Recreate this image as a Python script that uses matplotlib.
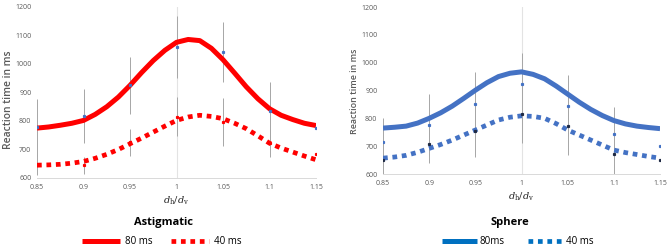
import matplotlib
matplotlib.use("Agg")
import matplotlib.pyplot as plt
from matplotlib.lines import Line2D

# measured points
ratio = [0.85, 0.9, 0.95, 1.0, 1.05, 1.1, 1.15]

astig_80 = [778, 818, 925, 1060, 1043, 835, 777]
astig_80_err = [100, 95, 100, 110, 106, 102, 98]
astig_40 = [645, 645, 725, 815, 797, 722, 685]
astig_40_err = [35, 30, 47, 68, 85, 50, 45]

sphere_80 = [714, 776, 850, 922, 845, 745, 700]
sphere_80_err = [86, 111, 117, 111, 110, 94, 80]
sphere_40 = [652, 708, 755, 815, 772, 672, 650]
sphere_40_err = [60, 70, 93, 103, 104, 75, 60]

# fitted curves, every 0.0125
curve_x = [0.85, 0.8625, 0.875, 0.8875, 0.9, 0.9125, 0.925, 0.9375, 0.95, 0.9625,
           0.975, 0.9875, 1.0, 1.0125, 1.025, 1.0375, 1.05, 1.0625, 1.075, 1.0875,
           1.1, 1.1125, 1.125, 1.1375, 1.15]
astig_80_fit = [775, 779, 785, 792, 802, 823, 850, 884, 925, 970, 1012, 1048, 1076,
                1086, 1082, 1055, 1015, 968, 920, 878, 843, 820, 805, 792, 784]
astig_40_fit = [645, 646, 648, 652, 658, 669, 683, 700, 720, 740, 761, 782, 802,
                814, 820, 816, 808, 792, 773, 748, 722, 705, 691, 677, 664]
sphere_80_fit = [765, 768, 772, 783, 800, 820, 844, 872, 901, 928, 950, 962, 967,
                 958, 942, 916, 887, 858, 832, 810, 792, 780, 772, 767, 763]
sphere_40_fit = [657, 661, 667, 678, 692, 706, 722, 740, 758, 776, 794, 804, 809,
                 807, 800, 781, 758, 740, 722, 704, 686, 677, 670, 663, 657]

xticks = [0.85, 0.9, 0.95, 1.0, 1.05, 1.1, 1.15]
xticklabels = ["0.85", "0.9", "0.95", "1", "1.05", "1.1", "1.15"]
yticks = [600, 700, 800, 900, 1000, 1100, 1200]

plt.rcParams['font.family'] = ['Open Sans', 'DejaVu Sans']
plt.rcParams['mathtext.fontset'] = 'dejavuserif'

grey = '#595959'
bar_grey = '#a6a6a6'


def draw_panel(ax, fit80, fit40, y80, e80, y40, e40, line_color, m80, m40, label_size, label_pos):
    ax.axvline(1.0, color='#e3e3e3', lw=0.8, zorder=0)
    ax.errorbar(ratio, y80, yerr=e80, fmt='none', ecolor=bar_grey, elinewidth=0.7, capsize=0, zorder=1)
    ax.errorbar(ratio, y40, yerr=e40, fmt='none', ecolor=bar_grey, elinewidth=0.7, capsize=0, zorder=1)
    ax.plot(curve_x, fit80, color=line_color, lw=3.6, solid_capstyle='butt', solid_joinstyle='round', zorder=2)
    ax.plot(curve_x, fit40, color=line_color, lw=3.4, linestyle=(0, (1, 1)),
            dash_capstyle='butt', zorder=2)
    ax.plot(ratio, y80, ls='none', marker='s', ms=1.3, color=m80, zorder=3)
    ax.plot(ratio, y40, ls='none', marker='s', ms=1.3, color=m40, zorder=3)

    ax.set_xlim(0.85, 1.15)
    ax.set_ylim(600, 1200)
    ax.set_xticks(xticks)
    ax.set_xticklabels(xticklabels)
    ax.set_yticks(yticks)
    ax.tick_params(length=0, labelsize=5.0, colors=grey, pad=4)
    for s in ['top', 'right', 'left']:
        ax.spines[s].set_visible(False)
    ax.spines['bottom'].set_color('#d9d9d9')
    ax.spines['bottom'].set_linewidth(0.7)
    ax.set_ylabel("Reaction time in ms", fontsize=label_size, color=grey, fontweight='semibold')
    ax.yaxis.set_label_coords(*label_pos)
    ax.set_xlabel(r'$d_\mathrm{h}/d_\mathrm{v}$', fontsize=7, color='#262626', labelpad=3)


fig = plt.figure(figsize=(6.68, 2.52), dpi=100)
ax1 = fig.add_axes([0.0554, 0.2937, 0.4177, 0.6786])
ax2 = fig.add_axes([0.5734, 0.3095, 0.4147, 0.6627])

draw_panel(ax1, astig_80_fit, astig_40_fit, astig_80, astig_80_err, astig_40, astig_40_err,
           '#ff0000', '#4472c4', '#ff0000', 7.4, (-0.082, 0.456))
draw_panel(ax2, sphere_80_fit, sphere_40_fit, sphere_80, sphere_80_err, sphere_40, sphere_40_err,
           '#4472c4', '#4472c4', '#1f2a44', 6.4, (-0.087, 0.497))

fig.text(163 / 668, 1 - 223 / 252, "Astigmatic", ha='center', va='center', fontsize=8, fontweight='bold')
fig.text(510 / 668, 1 - 222 / 252, "Sphere", ha='center', va='center', fontsize=8, fontweight='bold')

# legends
h_red = [Line2D([], [], color='#ff0000', lw=3.6, solid_capstyle='butt'),
         Line2D([], [], color='#ff0000', lw=3.4, linestyle=(0, (1, 1)), dash_capstyle='butt')]
fig.legend(h_red, ["80 ms", "40 ms"], loc='center', bbox_to_anchor=(162 / 668, 1 - 242 / 252),
           ncol=2, frameon=False, fontsize=7, handlelength=3.9, columnspacing=1.9, handletextpad=0.5)
h_blue = [Line2D([], [], color='#0070c0', lw=3.6, solid_capstyle='butt'),
          Line2D([], [], color='#0070c0', lw=3.4, linestyle=(0, (1, 1)), dash_capstyle='butt')]
fig.legend(h_blue, ["80ms", "40 ms"], loc='center', bbox_to_anchor=(518 / 668, 1 - 242 / 252),
           ncol=2, frameon=False, fontsize=7, handlelength=3.6, columnspacing=2.4, handletextpad=0.3)

fig.savefig("out.png", dpi=100)
